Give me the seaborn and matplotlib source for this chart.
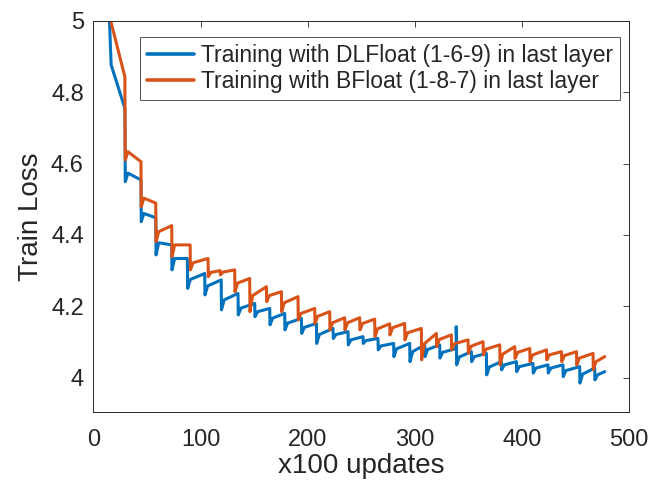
import numpy as np
import pandas as pd
import matplotlib
matplotlib.use("Agg")
import matplotlib.pyplot as plt
import seaborn as sns

# Start of each curve (values above 5 are clipped by the axis limit)
head_x_dl = [14.8, 16.5, 29.3]
head_y_dl = [5.01, 4.876, 4.755]
head_x_bf = [15.2, 29.3]
head_y_bf = [5.01, 4.843]

# DLFloat run: position of each sharp drop, loss right after the drop,
# loss shortly after recovering, loss just before the next drop
drops_dl = [29.7, 44.6, 58.4, 73.3, 87.9, 104.1, 119.5, 135.2, 150.8, 164.8,
            178.8, 194.4, 208.4, 223.9, 237.9, 251.9, 265.9, 280.5, 295.5, 309.5,
            323.5, 339.1, 353.1, 367.1, 381.1, 395.1, 410.6, 424.6, 438.6, 454.2,
            468.2]
dips_dl = [4.549, 4.437, 4.344, 4.302, 4.250, 4.232, 4.190, 4.176, 4.171, 4.148,
           4.134, 4.124, 4.096, 4.110, 4.092, 4.096, 4.078, 4.059, 4.045, 4.059,
           4.055, 4.036, 4.045, 4.008, 4.022, 4.017, 4.013, 4.013, 4.003, 3.985,
           3.994]
knees_dl = [4.573, 4.460, 4.378, 4.334, 4.275, 4.257, 4.218, 4.195, 4.185, 4.167,
            4.153, 4.141, 4.121, 4.121, 4.106, 4.104, 4.089, 4.081, 4.073, 4.079,
            4.071, 4.058, 4.059, 4.030, 4.036, 4.031, 4.027, 4.027, 4.020, 4.010,
            4.008]
ends_dl = [4.554, 4.448, 4.372, 4.334, 4.292, 4.274, 4.236, 4.208, 4.194, 4.180,
           4.166, 4.152, 4.138, 4.129, 4.115, 4.110, 4.096, 4.096, 4.092, 4.092,
           4.082, 4.073, 4.068, 4.045, 4.045, 4.040, 4.036, 4.036, 4.031, 4.027,
           4.017]
spike_x_dl = 338.7
spike_y_dl = 4.143

# BFloat run
drops_bf = [29.7, 44.6, 58.4, 73.3, 90.5, 107.2, 118.5, 132.1, 146.1, 161.7,
            175.7, 191.2, 206.8, 220.8, 234.8, 248.8, 262.8, 276.8, 290.8, 306.4,
            320.4, 334.4, 350.0, 364.0, 379.6, 393.6, 407.6, 423.2, 437.2, 451.2,
            466.7]
dips_bf = [4.610, 4.479, 4.381, 4.339, 4.302, 4.283, 4.288, 4.241, 4.185, 4.213,
           4.185, 4.162, 4.152, 4.134, 4.134, 4.134, 4.115, 4.120, 4.106, 4.050,
           4.087, 4.078, 4.068, 4.064, 4.036, 4.054, 4.045, 4.050, 4.045, 4.036,
           4.022]
knees_bf = [4.633, 4.503, 4.409, 4.372, 4.322, 4.295, 4.296, 4.265, 4.230, 4.230,
            4.210, 4.180, 4.172, 4.154, 4.154, 4.152, 4.137, 4.140, 4.126, 4.095,
            4.107, 4.095, 4.088, 4.080, 4.066, 4.071, 4.064, 4.064, 4.062, 4.055,
            4.045]
ends_bf = [4.605, 4.489, 4.426, 4.372, 4.334, 4.300, 4.302, 4.278, 4.255, 4.241,
           4.227, 4.194, 4.185, 4.168, 4.168, 4.164, 4.151, 4.152, 4.138, 4.124,
           4.120, 4.106, 4.101, 4.092, 4.087, 4.082, 4.078, 4.073, 4.073, 4.068,
           4.059]

last_update = 477.6

labels = ["Training with DLFloat (1-6-9) in last layer",
          "Training with BFloat (1-8-7) in last layer"]
x_ticks = [0, 100, 200, 300, 400, 500]
y_ticks = [4, 4.2, 4.4, 4.6, 4.8, 5]


def trace(hx, hy, drops, dips, knees, ends, spike=None):
    xs, ys = list(hx), list(hy)
    for i, d in enumerate(drops):
        nxt = drops[i + 1] if i + 1 < len(drops) else last_update
        xs += [d, d + 2.5, nxt - 0.25]
        ys += [dips[i], knees[i], ends[i]]
        if spike is not None and d < spike[0] < nxt:
            xs += [spike[0]]
            ys += [spike[1]]
    return xs, ys


x1, y1 = trace(head_x_dl, head_y_dl, drops_dl, dips_dl, knees_dl, ends_dl,
               spike=(spike_x_dl, spike_y_dl))
x2, y2 = trace(head_x_bf, head_y_bf, drops_bf, dips_bf, knees_bf, ends_bf)

df = pd.DataFrame({
    "updates": x1 + x2,
    "loss": y1 + y2,
    "run": [labels[0]] * len(x1) + [labels[1]] * len(x2),
})

sns.set_theme(style="white")
plt.rcParams["font.family"] = ["Liberation Sans", "DejaVu Sans"]

fig = plt.figure(figsize=(6.51, 4.86), dpi=100)
ax = fig.add_axes([0.1436, 0.1523, 0.8226, 0.8051])

sns.lineplot(data=df, x="updates", y="loss", hue="run", hue_order=labels,
             palette=["#0072BD", "#D95319"], estimator=None, sort=False,
             linewidth=2.2, ax=ax)

ax.set_xlim(0, 500)
ax.set_ylim(3.904, 5)
ax.set_xticks(x_ticks)
ax.set_yticks(y_ticks)
ax.set_xticklabels([str(t) for t in x_ticks])
ax.set_yticklabels(["4", "4.2", "4.4", "4.6", "4.8", "5"])
ax.tick_params(direction="in", length=4, width=0.6, color="#262626",
               labelsize=17, labelcolor="#262626", top=True, right=True)
ax.tick_params(axis="x", pad=12)
ax.tick_params(axis="y", pad=7)
for s in ax.spines.values():
    s.set_visible(True)
    s.set_color("#262626")
    s.set_linewidth(0.7)

ax.set_xlabel("x100 updates", fontsize=20, color="#262626", labelpad=2)
ax.set_ylabel("Train Loss", fontsize=20, color="#262626", labelpad=5)

leg = ax.legend(loc="upper left", bbox_to_anchor=(0.0868, 0.958), fontsize=16.5,
                frameon=True, fancybox=False, edgecolor="#262626",
                handlelength=2.05, borderpad=0.3, labelspacing=0.15,
                handletextpad=0.3, borderaxespad=0)
leg.get_frame().set_linewidth(0.7)
for h in leg.get_lines():
    h.set_linewidth(2.6)

fig.savefig("out.png", dpi=100)
